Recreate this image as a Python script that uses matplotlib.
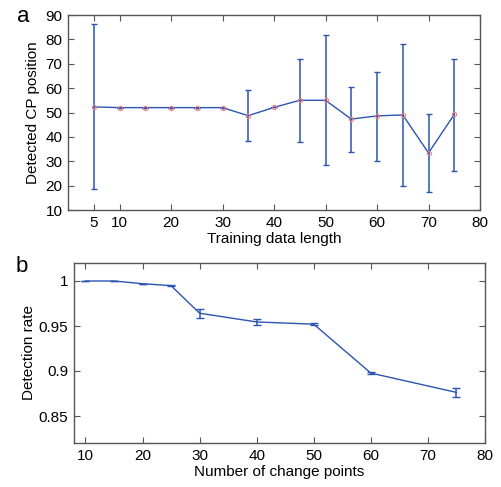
import numpy as np
import matplotlib
matplotlib.use("Agg")
import matplotlib.pyplot as plt

plt.rcParams['font.family'] = ['Liberation Sans', 'DejaVu Sans']

# panel a: detected change point position vs training data length
train_len = [5, 10, 15, 20, 25, 30, 35, 40, 45, 50, 55, 60, 65, 70, 75]
cp_mean = [52.3, 52, 52, 52, 52, 52, 48.7, 52.1, 55, 55, 47.3, 48.6, 49, 33.4, 49.2]
cp_hi = [86.2, 52, 52, 52, 52, 52, 59.1, 52.1, 71.8, 81.7, 60.5, 66.8, 78.3, 49.4, 72.1]
cp_lo = [18.7, 52, 52, 52, 52, 52, 38.2, 52.1, 38.0, 28.4, 33.9, 30.3, 20.0, 17.5, 26.2]

# panel b: detection rate vs number of change points
n_cp = [10, 15, 20, 25, 30, 40, 50, 60, 75]
rate = [1.0, 1.0, 0.997, 0.9948, 0.9642, 0.9545, 0.952, 0.8977, 0.8762]
rate_err = [0.0, 0.0, 0.0, 0.0005, 0.005, 0.0033, 0.001, 0.0015, 0.0048]

blue = '#2b55b0'
spine = '#555555'

fig = plt.figure(figsize=(5.01, 4.87), dpi=100)
W, H = 501, 487
ax1 = fig.add_axes([68 / W, 1 - 210 / H, (480 - 68) / W, (210 - 15) / H])
ax2 = fig.add_axes([74 / W, 1 - 443 / H, (485 - 74) / W, (443 - 263) / H])

err = [np.array(cp_mean) - np.array(cp_lo), np.array(cp_hi) - np.array(cp_mean)]
ax1.errorbar(train_len, cp_mean, yerr=err, color=blue, lw=1.0, elinewidth=1.1,
             capsize=2, capthick=1, zorder=2)
ax1.plot(train_len, cp_mean, 'o', ms=3, mfc='none', mec='#f08080', mew=0.8, zorder=3)
ax1.set_xlim(0, 80)
ax1.set_ylim(10, 90)
ax1.set_xticks([5, 10, 20, 30, 40, 50, 60, 70, 80])
ax1.set_yticks(range(10, 91, 10))
ax1.set_xlabel('Training data length', fontsize=11, labelpad=2)
ax1.set_ylabel('Detected CP position', fontsize=11, labelpad=4)

ax2.errorbar(n_cp, rate, yerr=rate_err, color=blue, lw=1.0, elinewidth=1.1,
             capsize=3, capthick=1)
ax2.set_xlim(8, 80)
ax2.set_ylim(0.82, 1.02)
ax2.set_xticks(range(10, 81, 10))
ax2.set_yticks([0.85, 0.9, 0.95, 1.0])
ax2.set_yticklabels(['0.85', '0.9', '0.95', '1'])
ax2.set_xlabel('Number of change points', fontsize=11, labelpad=2)
ax2.set_ylabel('Detection rate', fontsize=11, labelpad=2)

for ax in (ax1, ax2):
    for s in ax.spines.values():
        s.set_color(spine)
        s.set_linewidth(1.0)
    ax.tick_params(direction='in', top=True, right=True, length=4,
                   color=spine, labelsize=11, pad=4)

fig.text(23 / W, 1 - 17 / H, 'a', fontsize=16, ha='center', va='center')
fig.text(22 / W, 1 - 266 / H, 'b', fontsize=16, ha='center', va='center')

fig.savefig('out.png', dpi=100)
